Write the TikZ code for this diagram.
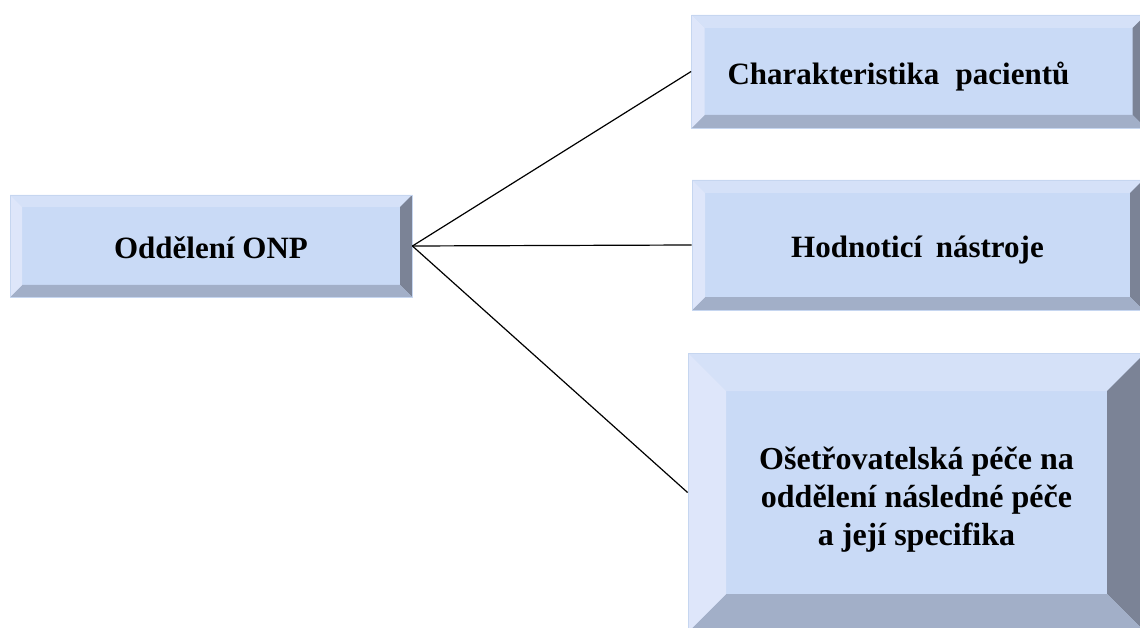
\documentclass[tikz,border=0pt]{standalone}
\usepackage{fontspec}
\setmainfont{Liberation Serif}
\begin{document}
\definecolor{faceblue}{RGB}{201,218,246}
\definecolor{bevtop}{RGB}{213,225,248}
\definecolor{bevleft}{RGB}{222,230,250}
\definecolor{bevbottom}{RGB}{162,175,200}
\definecolor{bevright}{RGB}{123,131,150}
\definecolor{edgeblue}{RGB}{198,214,240}
\newcommand\bv{12pt}
\newcommand\wsp{\hspace{6pt} }
\tikzset{
  bevel/.code={\renewcommand\bv{#1}},
  bevelbox/.style={
    rectangle, inner sep=0pt, fill=faceblue, draw=edgeblue, line width=0.8pt,
    font=\fontsize{31}{37}\selectfont\bfseries,
    path picture={
      \coordinate (o1) at (path picture bounding box.north west);
      \coordinate (o2) at (path picture bounding box.north east);
      \coordinate (o3) at (path picture bounding box.south east);
      \coordinate (o4) at (path picture bounding box.south west);
      \coordinate (i1) at ([xshift=\bv,yshift=-\bv]o1);
      \coordinate (i2) at ([xshift=-\bv,yshift=-\bv]o2);
      \coordinate (i3) at ([xshift=-\bv,yshift=\bv]o3);
      \coordinate (i4) at ([xshift=\bv,yshift=\bv]o4);
      \fill[bevtop] (o1)--(o2)--(i2)--(i1)--cycle;
      \fill[bevright] (o2)--(o3)--(i3)--(i2)--cycle;
      \fill[bevbottom] (o3)--(o4)--(i4)--(i3)--cycle;
      \fill[bevleft] (o4)--(o1)--(i1)--(i4)--cycle;
    }
  },
  oneline/.style={text height=26pt, text depth=0pt},
  link/.style={draw=black, line width=1.2pt}
}
\begin{tikzpicture}[x=1pt,y=-1pt]
  \useasboundingbox (0,0) rectangle (1140,628);
  \clip (0,0) rectangle (1140,628);

  % root box
  \node[bevelbox, oneline, bevel=12pt, minimum width=402pt, minimum height=102pt]
    (onp) at (211,246) {Oddělení ONP};

  % branch boxes
  \node[bevelbox, oneline, bevel=13pt, minimum width=453pt, minimum height=113pt,
        text width=382pt, inner xsep=36pt, align=left]
    (pac) at (918.5,71.5) {Charakteristika\wsp pacientů};
  \node[bevelbox, oneline, bevel=13pt, minimum width=451pt, minimum height=130pt]
    (nas) at (917.5,245) {Hodnoticí\wsp nástroje};
  \node[bevelbox, bevel=38pt, minimum width=457pt, minimum height=279pt,
        text height=27.5pt, text depth=0pt,
        font=\fontsize{32}{38}\selectfont\bfseries]
    (pece) at (916.5,492.5)
    {\begin{tabular}{@{}c@{}}Ošetřovatelská péče na\\oddělení následné péče\\a její specifika\end{tabular}};

  % connectors
  \draw[link] (onp.east) -- (pac.west);
  \draw[link] (onp.east) -- (nas.west);
  \draw[link] (onp.east) -- (pece.west);
\end{tikzpicture}
\end{document}
